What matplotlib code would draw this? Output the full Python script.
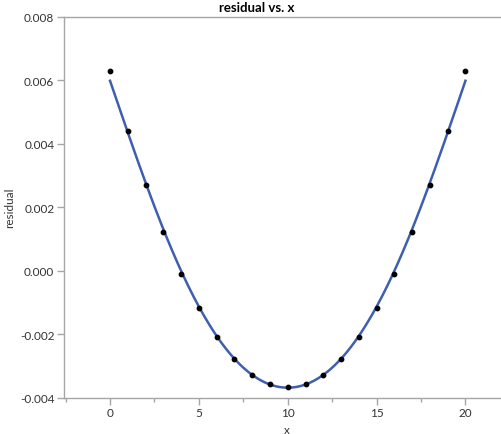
import numpy as np
import matplotlib.pyplot as plt
from matplotlib.ticker import MultipleLocator

plt.rcParams['font.family'] = ['Lato', 'DejaVu Sans']

x = np.arange(0, 21)
residual = np.array([0.00630, 0.00441, 0.00269, 0.00121, -0.00010, -0.00118,
                     -0.00210, -0.00280, -0.00329, -0.00357, -0.00368,
                     -0.00357, -0.00329, -0.00280, -0.00210, -0.00118,
                     -0.00010, 0.00121, 0.00269, 0.00441, 0.00630])


# smoothing spline (penalised second derivative) on a fine grid
def smooth(xd, yd, lam, h=0.1):
    xs = np.arange(xd.min(), xd.max() + h / 2, h)
    n = len(xs)
    W = np.zeros((n, n))
    b = np.zeros(n)
    for xi, yi in zip(xd, yd):
        k = int(round((xi - xd.min()) / h))
        W[k, k] += 1
        b[k] += yi
    D = np.diff(np.eye(n), 2, axis=0) / h**2
    return xs, np.linalg.solve(W + lam * h * D.T @ D, b)


xs, ys = smooth(x, residual, 6)

fig = plt.figure(figsize=(5.01, 4.35), dpi=100)
ax = fig.add_axes([64 / 501, 1 - 398.5 / 435, 1 - 64 / 501, (398.5 - 18) / 435])

ax.plot(xs, ys, color='#3f5fae', lw=1.8, zorder=2)
ax.scatter(x, residual, s=10, color='black', zorder=3)

ax.set_xlim(-2.59, 22.0)
ax.set_ylim(-0.004, 0.008)
ax.xaxis.set_major_locator(MultipleLocator(5))
ax.xaxis.set_minor_locator(MultipleLocator(2.5))
ax.yaxis.set_major_locator(MultipleLocator(0.002))
ax.yaxis.set_major_formatter(plt.FormatStrFormatter('%.3f'))

for s in ['left', 'bottom', 'top']:
    ax.spines[s].set_color('#a6a6a6')
    ax.spines[s].set_linewidth(1.0)
ax.spines['right'].set_visible(False)

ax.tick_params(axis='both', which='major', length=5, width=1, color='#a6a6a6',
               labelsize=8.5, labelcolor='#333333', pad=2)
ax.tick_params(axis='x', which='minor', length=3, width=1, color='#a6a6a6')

ax.set_xlabel('x', fontsize=8.5, color='#333333')
ax.xaxis.set_label_coords((287 - 64) / (501 - 64), -0.07)
ax.set_ylabel('residual', fontsize=8.5, color='#333333')
ax.yaxis.set_label_coords(-(64 - 15) / (501 - 64), 0.5)
fig.text(257 / 501, 1 - 8 / 435, 'residual vs. x', fontsize=9.5, fontweight='bold',
         ha='center', va='center')

fig.savefig('out.png', dpi=100)
